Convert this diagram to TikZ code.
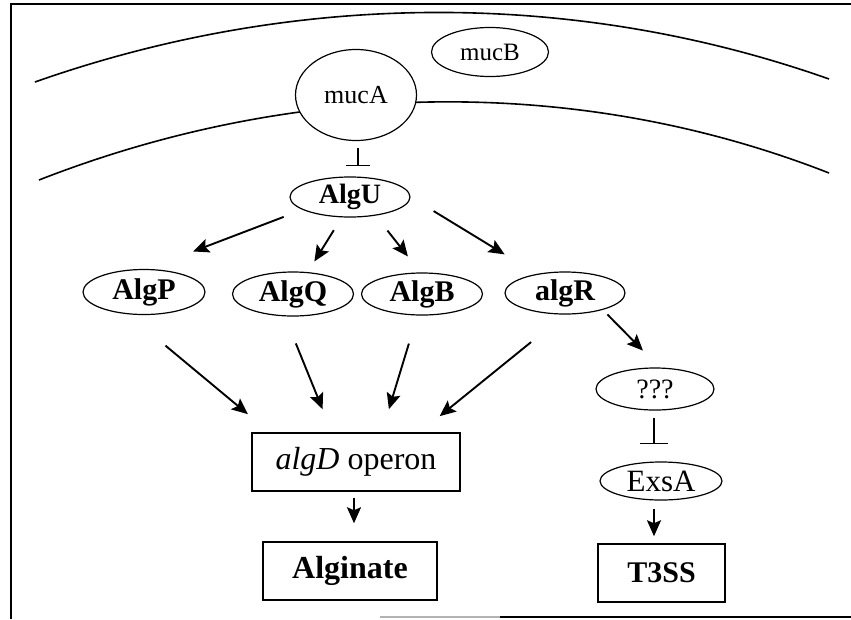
\documentclass[tikz,border=0pt]{standalone}
\usepackage{fontspec}
\setmainfont{Liberation Serif}
\usetikzlibrary{shapes.geometric,arrows.meta}

\tikzset{
	gene/.style={shape=ellipse, draw=black, line width=1.2pt, inner sep=0pt},
	genebox/.style={shape=rectangle, draw=black, line width=1.5pt, inner sep=0pt},
	act/.style={-{Stealth[length=16pt,width=14pt,inset=3pt]}, line width=1.9pt},
	inh/.style={line width=1.3pt},
}

\begin{document}
\begin{tikzpicture}[x=1pt, y=-1pt]

	\useasboundingbox (0, 0) rectangle (851, 619);

	\draw[line width=1.6pt] (11, 619) -- (11, 4) -- (851, 4);
	\draw[line width=1.6pt, gray!60] (380, 617) -- (500, 617);
	\draw[line width=1.6pt] (500, 617) -- (851, 617);

	\draw[line width=1.6pt] (35, 82) .. controls (292, -8.7) and (572, -11.7) .. (829, 79);
	\draw[line width=1.6pt] (39, 180) .. controls (293, 80.6) and (575, 73.6) .. (829, 173);

	\node[gene, fill=white, minimum width=121pt, minimum height=91pt, font=\fontsize{26}{28}\selectfont] (mucA) at (356, 95) {mucA};
	\node[gene, minimum width=117pt, minimum height=49pt, font=\fontsize{25}{27}\selectfont] (mucB) at (490, 52) {mucB};

	\node[gene, minimum width=120pt, minimum height=40pt, font=\fontsize{28}{30}\selectfont\bfseries] (AlgU) at (350, 197) {AlgU};

	\node[gene, minimum width=122pt, minimum height=45pt, font=\fontsize{30}{32}\selectfont\bfseries] (AlgP) at (144, 292) {AlgP};
	\node[gene, minimum width=121pt, minimum height=44pt, font=\fontsize{30}{32}\selectfont\bfseries] (AlgQ) at (293, 294) {AlgQ};
	\node[gene, minimum width=121pt, minimum height=42pt, font=\fontsize{30}{32}\selectfont\bfseries] (AlgB) at (422, 294) {AlgB};
	\node[gene, minimum width=120pt, minimum height=42pt, font=\fontsize{30}{32}\selectfont\bfseries] (algR) at (565, 293) {algR};

	\node[gene, minimum width=118pt, minimum height=42pt, font=\fontsize{28}{30}\selectfont] (unknown) at (655, 389) {???};
	\node[gene, minimum width=122pt, minimum height=38pt, font=\fontsize{31}{33}\selectfont] (ExsA) at (661, 481) {ExsA};

	\node[genebox, minimum width=208pt, minimum height=58pt, font=\fontsize{32}{34}\selectfont] (operon) at (356, 462) {\textit{algD} operon};
	\node[genebox, minimum width=174pt, minimum height=58pt, font=\fontsize{32}{34}\selectfont\bfseries] (Alginate) at (350, 571) {Alginate};
	\node[genebox, minimum width=127pt, minimum height=58pt, font=\fontsize{30}{32}\selectfont\bfseries] (T3SS) at (661.5, 573) {T3SS};

	\path[inh, -{Bar[width=24pt]}] ([xshift=2pt]mucA.south) edge[shorten <=6.5pt, shorten >=10pt] ([xshift=8pt]AlgU.north);

	\path[act] (AlgU.195) edge[shorten <=20pt, shorten >=49pt] (AlgP.82);
	\path[act] (AlgU.248) edge[shorten <=15pt, shorten >=12.5pt] (AlgQ.56);
	\path[act] (AlgU.324.6) edge[shorten <=19pt, shorten >=20.3pt] (AlgB.94);
	\path[act] (AlgU.east) edge[shorten <=27pt, shorten >=37.5pt] (algR.146);

	\path[act] (AlgP.234) edge[shorten <=49pt, shorten >=28.3pt] (operon.161);
	\path[act] (AlgQ.250.2) edge[shorten <=29.2pt, shorten >=24.8pt] (operon.129.3);
	\path[act] (AlgB.258.7) edge[shorten <=29.3pt, shorten >=24.1pt] (operon.49.5);
	\path[act] (algR.south) edge[shorten <=43.6pt, shorten >=25.6pt] (operon.25.4);

	\path[act] (algR.336.5) edge[shorten <=6.5pt, shorten >=23.7pt] (unknown.78);
	\path[inh, -{Bar[width=28pt]}] ([xshift=-1pt]unknown.south) edge[shorten <=7pt, shorten >=17pt] ([xshift=-7pt]ExsA.north);

	\path[act] ([xshift=-2pt]operon.south) edge[shorten <=6pt, shorten >=18pt] ([xshift=4pt]Alginate.north);
	\path[act] ([xshift=-7pt]ExsA.south) edge[shorten <=8pt, shorten >=7pt] ([xshift=-7.5pt]T3SS.north);

\end{tikzpicture}
\end{document}
